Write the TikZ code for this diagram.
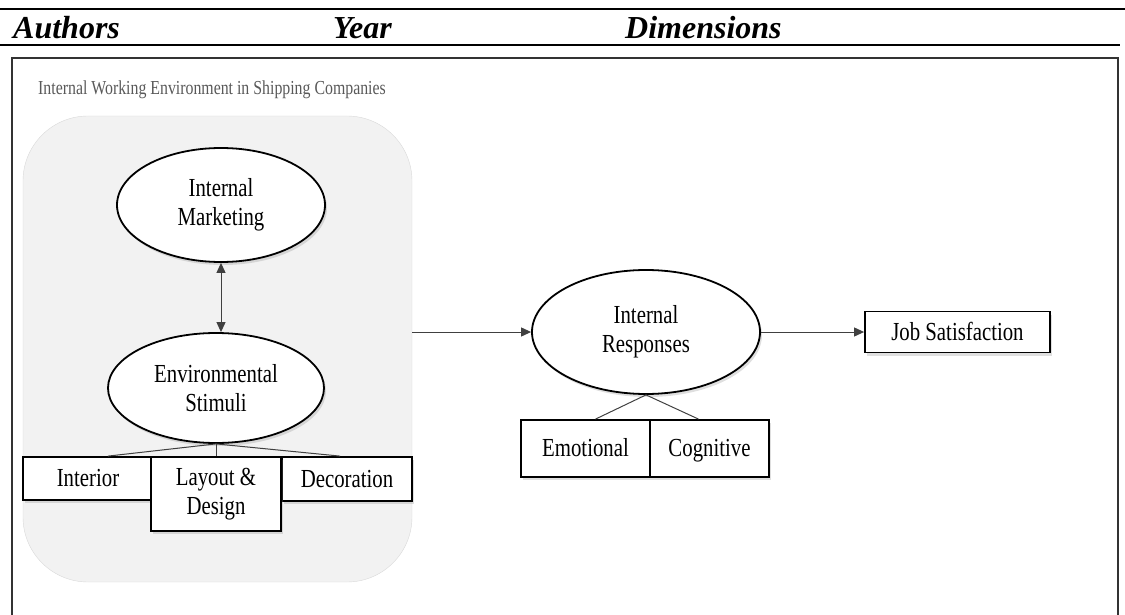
\documentclass[tikz,border=0pt]{standalone}
\usepackage{fontspec}
\setmainfont{Liberation Serif}
\newfontfamily\narrowfont[FakeStretch=0.8]{Liberation Serif}
\usetikzlibrary{positioning,arrows.meta,shadows,shapes.geometric}

\begin{document}
\begin{tikzpicture}[x=1pt,y=-1pt,line cap=butt,line join=miter,>={Triangle[length=10pt,width=9pt]},
	oval/.style={ellipse,draw,line width=1.8pt,fill=white,inner sep=0pt,align=center,
		font=\narrowfont\fontsize{26}{29}\selectfont,
		drop shadow={opacity=0.25,shadow xshift=2pt,shadow yshift=-3pt}},
	block/.style={rectangle,draw,line width=1.8pt,fill=white,inner sep=0pt,align=center,
		font=\narrowfont\fontsize{26}{29}\selectfont,
		drop shadow={opacity=0.25,shadow xshift=2pt,shadow yshift=-3pt}},
	oneline/.style={text height=18pt,text depth=2pt},
	head/.style={anchor=base west,inner sep=0pt,font=\bfseries\itshape\fontsize{32}{36}\selectfont},
	link/.style={draw=black!75,line width=1pt}]
	\useasboundingbox (0,0) rectangle (1125,615);
	% table header
	\draw[line width=2pt] (0,9)--(1125,9);
	\draw[line width=2pt] (0,45)--(1120,45);
	\node[head] (hauthors) at (13,39) {Authors};
	\node[head] (hyear) at (333,39) {Year};
	\node[head] (hdims) at (625,39) {Dimensions};
	% figure frame
	\draw[line width=1.5pt,black!80] (12,615)--(12,58)--(1118,58)--(1118,615);
	\node[anchor=base west,inner sep=0pt,text=black!65,font=\narrowfont\fontsize{19.8}{22}\selectfont] (title) at (38,95) {Internal Working Environment in Shipping Companies};
	\node[draw=black!15,fill=black!5,rounded corners=65pt,minimum width=389pt,minimum height=466pt] (env) at (217.5,349) {};
	% left group
	\node[oval,minimum width=208pt,minimum height=114pt] (im) at (221,205) {Internal\\Marketing};
	\node[oval,minimum width=216pt,minimum height=110pt] (es) at (216,388) {Environmental\\Stimuli};
	\node[block,oneline,minimum width=130pt,minimum height=43pt] (int) at (88,478.5) {Interior};
	\node[block,oneline,minimum width=130pt,minimum height=44pt] (dec) at (347,479) {Decoration};
	\node[block,minimum width=130pt,minimum height=74pt] (lay) at (216,494) {Layout \&\\Design};
	\draw[<->,link] (im.south)--(im.south |- es.north);
	\draw[link] (es.south)--([xshift=20pt]int.north);
	\draw[link] (es.south)--(lay.north);
	\draw[link] (es.south)--([xshift=-7pt]dec.north);
	% right group
	\node[oval,minimum width=228pt,minimum height=124pt] (ir) at (646,332) {Internal\\Responses};
	\node[block,oneline,minimum width=185pt,minimum height=41pt] (job) at (957.5,332) {Job Satisfaction};
	\node[block,oneline,minimum width=129pt,minimum height=57pt] (emo) at (585.5,448.5) {Emotional};
	\node[block,oneline,minimum width=119pt,minimum height=57pt] (cog) at (709.5,448.5) {Cognitive};
	\draw[->,link] (env.east |- ir.west)--(ir.west);
	\draw[->,link] (ir.east)--(job.west);
	\draw[link] (ir.south)--([xshift=10pt]emo.north);
	\draw[link] (ir.south)--([xshift=-11pt]cog.north);
\end{tikzpicture}
\end{document}
